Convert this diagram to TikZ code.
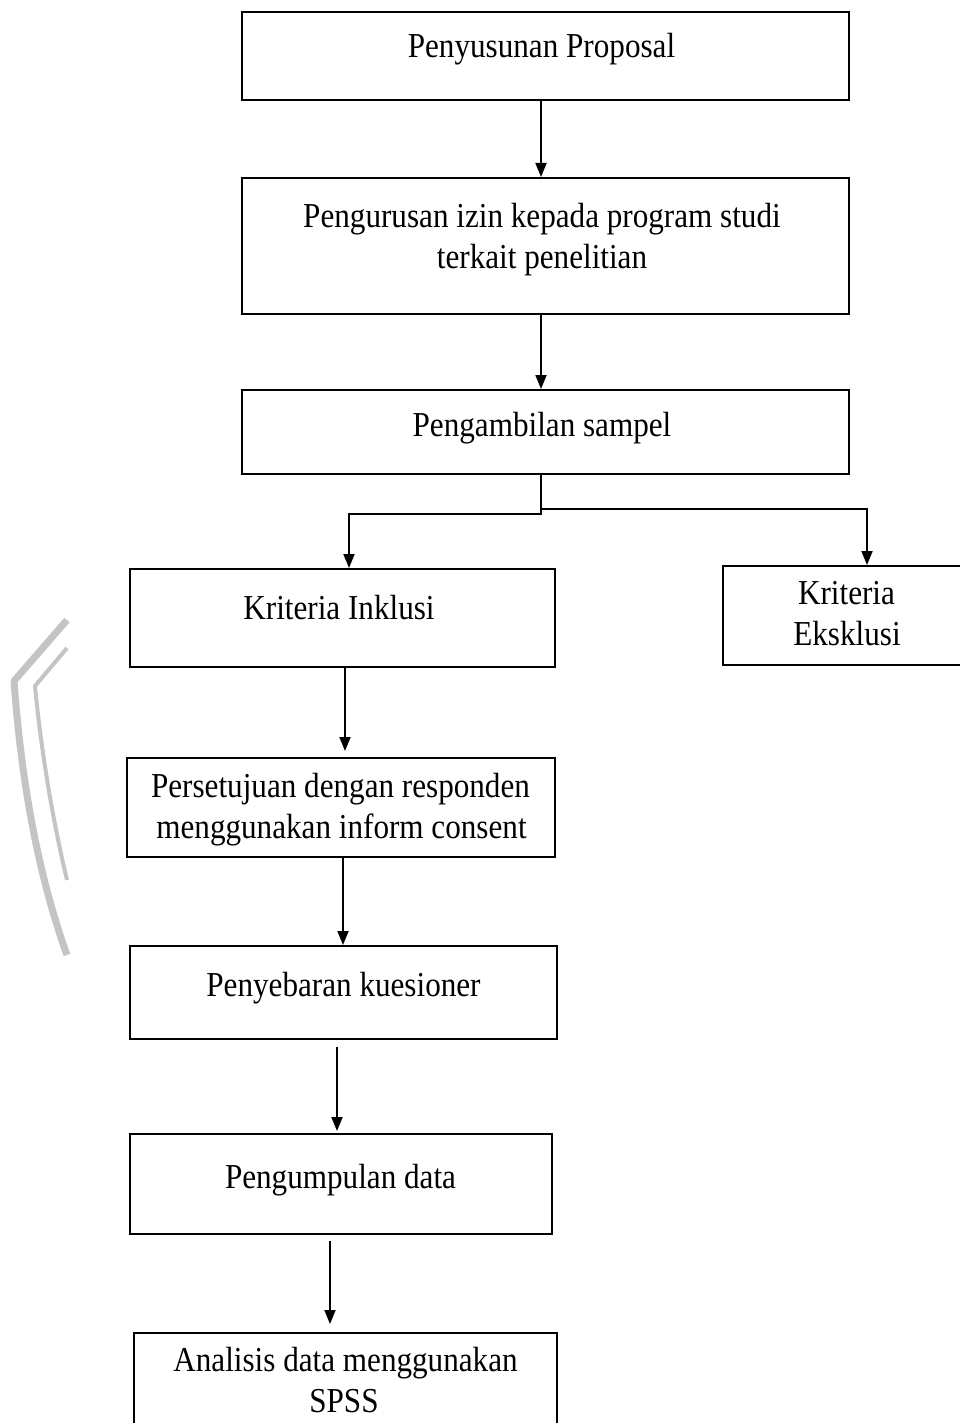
\documentclass[tikz,border=0pt]{standalone}
\usepackage{fontspec}
\setmainfont[FakeStretch=0.89]{Liberation Serif}
\usetikzlibrary{arrows.meta}
\definecolor{wmgray}{HTML}{C4C4C4}
\begin{document}
\begin{tikzpicture}[x=1pt,y=-1pt,
  box/.style={draw=black, line width=2pt, inner sep=0pt, fill=none},
  txt/.style={anchor=base, inner sep=0pt, font=\fontsize{35}{41}\selectfont},
  ln/.style={draw=black, line width=1.8pt},
  arr/.style={ln, -{Triangle[length=14pt,width=11pt]}},
  wm/.style={draw=wmgray, line cap=butt, line join=round}]
\useasboundingbox (0,0) rectangle (960,1423);
\begin{scope}
\clip (0,0) rectangle (960,1423);
% watermark fragment
\draw[wm, line width=7pt] (67,620) -- (14,681) .. controls (22,790) and (40,880) .. (67,955);
\draw[wm, line width=4pt] (67,648) -- (35,686) .. controls (42,760) and (55,830) .. (67,880);
% boxes
\node[box, minimum width=607pt, minimum height=88pt]  (b1) at (545.5,56) {};
\node[box, minimum width=607pt, minimum height=136pt] (b2) at (545.5,246) {};
\node[box, minimum width=607pt, minimum height=84pt]  (b3) at (545.5,432) {};
\node[box, minimum width=425pt, minimum height=98pt]  (b4) at (342.5,618) {};
\node[box, minimum width=247pt, minimum height=99pt]  (b4r) at (846.5,615.5) {};
\node[box, minimum width=428pt, minimum height=99pt]  (b5) at (341,807.5) {};
\node[box, minimum width=427pt, minimum height=93pt]  (b6) at (343.5,992.5) {};
\node[box, minimum width=422pt, minimum height=100pt] (b7) at (341,1184) {};
\node[box, minimum width=423pt, minimum height=107pt] (b8) at (345.5,1386.5) {};
% texts
\node[txt] (t1)  at (541.5,58)  {Penyusunan Proposal};
\node[txt] (t2a) at (542,228)   {Pengurusan izin kepada program studi};
\node[txt] (t2b) at (542,269)   {terkait penelitian};
\node[txt] (t3)  at (542,436)   {Pengambilan sampel};
\node[txt] (t4)  at (339,619)   {Kriteria Inklusi};
\node[txt] (t4a) at (846.5,604) {Kriteria};
\node[txt] (t4b) at (847,645)   {Eksklusi};
\node[txt] (t5a) at (340.5,797) {Persetujuan dengan responden};
\node[txt] (t5b) at (341.5,838) {menggunakan inform consent};
\node[txt] (t6)  at (343.5,996) {Penyebaran kuesioner};
\node[txt] (t7)  at (340.5,1188) {Pengumpulan data};
\node[txt] (t8a) at (345.5,1371) {Analisis data menggunakan};
\node[txt] (t8b) at (344,1412)  {SPSS};
% connectors
\draw[arr] ([xshift=-4.5pt]b1.south) -- ([xshift=-4.5pt]b2.north);
\draw[arr] ([xshift=-4.5pt]b2.south) -- ([xshift=-4.5pt]b3.north);
\draw[arr] ([xshift=-4.5pt]b3.south) -- ++(0,39) -| ([xshift=6.5pt]b4.north);
\draw[arr] ([xshift=-4.5pt,yshift=-34pt]b3.south) -| ([xshift=20.5pt]b4r.north);
\draw[arr] ([xshift=2.5pt]b4.south) -- ([xshift=4pt,yshift=6pt]b5.north);
\draw[arr] ([xshift=2pt]b5.south) -- ([xshift=-0.5pt]b6.north);
\draw[arr] ([xshift=-6.5pt,yshift=-7pt]b6.south) -- ([xshift=-4pt,yshift=2pt]b7.north);
\draw[arr] ([xshift=-11pt,yshift=-6pt]b7.south) -- ([xshift=-15.5pt,yshift=8pt]b8.north);
\end{scope}
\end{tikzpicture}
\end{document}
